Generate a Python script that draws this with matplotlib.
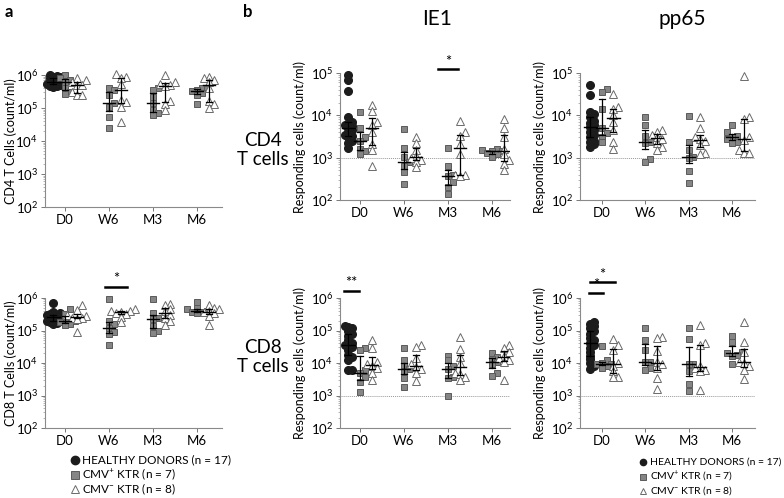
import numpy as np
import matplotlib.pyplot as plt
from matplotlib.lines import Line2D
from matplotlib.ticker import LogLocator, NullFormatter
import matplotlib.transforms as mtransforms

plt.rcParams['font.family'] = ['Lato', 'DejaVu Sans']
plt.rcParams['mathtext.fontset'] = 'custom'
plt.rcParams['mathtext.rm'] = 'Lato'
plt.rcParams['mathtext.it'] = 'Lato:italic'

timepoints = ['D0', 'W6', 'M3', 'M6']

# panel a, CD4 T cells (count/ml)
cd4_healthy = [1e6, 9.5e5, 9e5, 8.5e5, 8e5, 7.5e5, 7e5, 6.5e5, 6.2e5, 6e5, 5.8e5, 5.5e5, 5.2e5, 5e5, 4.8e5, 4.5e5, 4.2e5]
cd4_pos = [[1e6, 8e5, 7e5, 6e5, 4e5, 3e5, 2.7e5],
           [4e5, 3.5e5, 2.5e5, 1.4e5, 1.1e5, 5.5e4, 2.4e4],
           [4e5, 3.6e5, 2.1e5, 1.4e5, 8.5e4, 7e4, 6e4],
           [4e5, 3.7e5, 3.6e5, 3.2e5, 2.8e5, 2.5e5, 1.3e5]]
cd4_neg = [[8e5, 7e5, 6e5, 5e5, 5e5, 3e5, 2.5e5, 2.5e5],
           [1.05e6, 9e5, 8e5, 5.5e5, 1.7e5, 1.5e5, 1.1e5, 3.7e4],
           [1e6, 6e5, 5.5e5, 5e5, 4.5e5, 1.6e5, 1.3e5, 9e4],
           [9e5, 8e5, 7e5, 6e5, 4e5, 1.6e5, 1.3e5, 1e5]]

# panel a, CD8 T cells (count/ml)
cd8_healthy = [7e5, 3.6e5, 3.4e5, 3.3e5, 3.1e5, 3e5, 2.9e5, 2.8e5, 2.6e5, 2.5e5, 2.4e5, 2.2e5, 2e5, 1.9e5, 1.8e5, 1.7e5, 1.6e5]
cd8_pos = [[4.5e5, 3.2e5, 2.2e5, 2e5, 1.8e5, 1.6e5, 1.5e5],
           [9e5, 2e5, 1.6e5, 1.2e5, 9e4, 8e4, 3.6e4],
           [9e5, 3.5e5, 2.5e5, 2.2e5, 1.4e5, 1e5, 8.5e4],
           [7.5e5, 5e5, 4.5e5, 4e5, 3.8e5, 3.6e5, 3.5e5]]
cd8_neg = [[6e5, 4.3e5, 3e5, 2.7e5, 2.5e5, 2.4e5, 2.2e5, 9e4],
           [4.5e5, 4e5, 4e5, 3.7e5, 3.5e5, 3.3e5, 2.6e5, 1.8e5],
           [6.5e5, 6e5, 4.5e5, 4e5, 3e5, 2.5e5, 2e5, 1.5e5],
           [6e5, 5e5, 4.5e5, 4e5, 3.6e5, 3.5e5, 2.8e5, 1.5e5]]

# panel b, IE1 responding CD4
ie1_cd4_healthy = [9e4, 7e4, 3.8e4, 9e3, 7e3, 6e3, 6e3, 5.5e3, 5e3, 4.5e3, 4e3, 3.5e3, 3.3e3, 3e3, 2.5e3, 2.2e3, 1.7e3]
ie1_cd4_pos = [[1.2e4, 5e3, 3e3, 2.5e3, 1.6e3, 1.4e3, 1.2e3],
               [4.8e3, 1.7e3, 1.05e3, 8e2, 6.3e2, 4.5e2, 2.4e2],
               [1.65e3, 6.2e2, 4e2, 3.7e2, 2.6e2, 2e2, 1.35e2],
               [1.6e3, 1.5e3, 1.45e3, 1.4e3, 1.3e3, 1.2e3, 1.05e3]]
ie1_cd4_neg = [[1.8e4, 1.3e4, 7e3, 6e3, 4e3, 2.1e3, 1.5e3, 6.5e2],
               [3e3, 2.2e3, 1.5e3, 1.1e3, 1e3, 9e2, 8e2, 6e2],
               [7.5e3, 4e3, 3.2e3, 2.1e3, 1.2e3, 4e2, 3.8e2, 3.6e2],
               [8e3, 5e3, 3e3, 1.6e3, 1.2e3, 9e2, 7e2, 5e2]]

# panel b, pp65 responding CD4
pp65_cd4_healthy = [5.2e4, 3e4, 1.2e4, 1.05e4, 9e3, 7.5e3, 6.5e3, 5.8e3, 5.2e3, 4.6e3, 4e3, 3.4e3, 3e3, 2.5e3, 2.3e3, 2.1e3, 1.8e3]
pp65_cd4_pos = [[4.3e4, 3.5e4, 1.4e4, 5e3, 3.8e3, 3e3, 2.3e3],
                [9e3, 6e3, 3.2e3, 2.4e3, 2.2e3, 9.5e2, 8e2],
                [9.5e3, 2.4e3, 1.5e3, 1.05e3, 9.8e2, 4.8e2, 2.5e2],
                [6e3, 4e3, 3.3e3, 3.1e3, 2.8e3, 2.4e3, 2.2e3]]
pp65_cd4_neg = [[3.2e4, 1.6e4, 1.4e4, 1e4, 7e3, 4.5e3, 2.3e3, 1.6e3],
                [4.5e3, 4e3, 3.5e3, 3e3, 2.7e3, 2.2e3, 1.8e3, 1.5e3],
                [9e3, 5e3, 3e3, 2.7e3, 2.5e3, 2e3, 1.3e3, 1.2e3],
                [8.5e4, 9e3, 8e3, 3e3, 2.6e3, 1.5e3, 1.3e3, 1.3e3]]

# panel b, IE1 responding CD8
ie1_cd8_healthy = [1.4e5, 1.3e5, 1.2e5, 1e5, 8e4, 7e4, 5e4, 4e4, 3.5e4, 3.5e4, 3e4, 2.5e4, 1.8e4, 1.5e4, 1.2e4, 6e3, 6e3]
ie1_cd8_pos = [[2.8e4, 2.6e4, 6e3, 5e3, 3.6e3, 2.6e3, 1.3e3],
               [2.8e4, 1.2e4, 8e3, 6.5e3, 5.5e3, 3.5e3, 1.8e3],
               [1.7e4, 1.2e4, 8e3, 6.5e3, 3.6e3, 3.5e3, 9.5e2],
               [2e4, 1.5e4, 1.3e4, 1.05e4, 9e3, 5e3, 4e3]]
ie1_cd8_neg = [[5e4, 2.8e4, 1.1e4, 9e3, 8e3, 7e3, 5e3, 3e3],
               [3.6e4, 3e4, 1.4e4, 9e3, 7.5e3, 6.5e3, 5e3, 2.8e3],
               [6.5e4, 2.7e4, 1.5e4, 1e4, 5e3, 4.5e3, 3.7e3, 3e3],
               [3.5e4, 2.8e4, 2.2e4, 1.7e4, 1.4e4, 1.2e4, 1.1e4, 3e3]]

# panel b, pp65 responding CD8
pp65_cd8_healthy = [1.8e5, 1.6e5, 1.4e5, 1.2e5, 1e5, 8e4, 6e4, 5e4, 4.2e4, 3.5e4, 2.8e4, 2.2e4, 1.7e4, 1.3e4, 1e4, 8e3, 6.5e3]
pp65_cd8_pos = [[3.3e4, 1.2e4, 1e4, 9.5e3, 9e3, 8e3, 7e3],
                [1.2e5, 5e4, 2.6e4, 1.1e4, 1.05e4, 7e3, 6e3],
                [1.2e5, 5.4e4, 9.5e3, 9e3, 5.8e3, 2.3e3, 1.4e3],
                [7e4, 4.3e4, 2.2e4, 2e4, 1.8e4, 1.6e4, 9e3]]
pp65_cd8_neg = [[5.5e4, 3.5e4, 2.5e4, 1e4, 8e3, 5.5e3, 3.8e3, 3.7e3],
                [6.5e4, 6e4, 2.3e4, 1.1e4, 9e3, 7e3, 3.5e3, 1.6e3],
                [1.5e5, 4e4, 3.5e4, 8e3, 7e3, 6e3, 5.5e3, 1.5e3],
                [1.8e5, 4.5e4, 2.2e4, 1.1e4, 1e4, 8e3, 6e3, 3.2e3]]

legend_labels = ['HEALTHY DONORS (n = 17)', r'CMV$^{+}$ KTR (n = 7)', r'CMV$^{-}$ KTR (n = 8)']

W, H = 784, 498
fig = plt.figure(figsize=(W / 100, H / 100), dpi=100)

healthy_style = dict(marker='o', mfc='#1c1c1c', mec='#1c1c1c', ls='none')
pos_style = dict(marker='s', mfc='#858585', mec='#5a5a5a', mew=0.7, ls='none')
neg_style = dict(marker='^', mfc='white', mec='#6a6a6a', mew=0.7, ls='none')


def px_axes(x0, y0, x1, y1):
    return fig.add_axes([x0 / W, 1 - y1 / H, (x1 - x0) / W, (y1 - y0) / H])


def swarm(vals, ppd, ppu, size, tol):
    # simple deterministic beeswarm, offsets in category units
    ys = np.log10(vals) * ppd
    placed = []
    offs = np.zeros(len(vals))
    for i in np.argsort(ys):
        for k in [0, 1, -1, 2, -2, 3, -3, 4, -4]:
            x = k * size * tol
            if all((x - a) ** 2 + (ys[i] - b) ** 2 >= (size * tol) ** 2 for a, b in placed):
                break
        placed.append((x, ys[i]))
        offs[i] = x
    return offs / ppu


def summary(ax, xc, vals):
    q1, med, q3 = np.percentile(vals, [25, 50, 75])
    ax.plot([xc, xc], [q1, q3], color='black', lw=0.9, zorder=5)
    ax.plot([xc - 0.07, xc + 0.07], [q1, q1], color='black', lw=0.9, zorder=5)
    ax.plot([xc - 0.07, xc + 0.07], [q3, q3], color='black', lw=0.9, zorder=5)
    ax.plot([xc - 0.14, xc + 0.14], [med, med], color='black', lw=1.0, zorder=5)


def panel(ax, healthy, pos, neg, ylim, xlim, ylabel, label_x, cutoff=False):
    ax.set_yscale('log')
    ax.set_ylim(*ylim)
    ax.set_xlim(*xlim)
    bbox = ax.get_position()
    ppd = bbox.height * H / np.log10(ylim[1] / ylim[0])
    ppu = bbox.width * W / (xlim[1] - xlim[0])

    xh = -0.26 + swarm(healthy, ppd, ppu, 7.0, 0.45)
    ax.plot(xh, healthy, ms=5.5, zorder=3, clip_on=False, **healthy_style)
    summary(ax, -0.26, healthy)
    for i in range(len(timepoints)):
        xp = i + swarm(pos[i], ppd, ppu, 6.5, 0.75)
        ax.plot(xp, pos[i], ms=5, zorder=3, clip_on=False, **pos_style)
        xn = i + 0.27 + swarm(neg[i], ppd, ppu, 6.5, 0.75)
        ax.plot(xn, neg[i], ms=5.5, zorder=4, clip_on=False, **neg_style)
        summary(ax, i, pos[i])
        summary(ax, i + 0.27, neg[i])

    if cutoff:
        ax.axhline(1e3, color='#999999', lw=0.7, ls=(0, (1, 1)), zorder=1)

    ax.set_xticks(range(len(timepoints)))
    ax.set_xticklabels(timepoints)
    ax.yaxis.set_major_locator(LogLocator(base=10, numticks=10))
    ax.yaxis.set_minor_locator(LogLocator(base=10, subs=np.arange(2, 10), numticks=10))
    ax.yaxis.set_minor_formatter(NullFormatter())
    ax.tick_params(axis='both', which='major', labelsize=9.5, length=3, width=0.7, color='#777777', pad=2)
    ax.tick_params(axis='y', which='minor', length=1.5, width=0.5, color='#999999')
    for s in ['top', 'right']:
        ax.spines[s].set_visible(False)
    for s in ['left', 'bottom']:
        ax.spines[s].set_color('#8a8a8a')
        ax.spines[s].set_linewidth(0.8)
    ax.set_ylabel(ylabel, fontsize=9)
    # label_x is the centre of the rotated label in pixels; its anchor is the right edge
    ax.yaxis.set_label_coords((label_x + 6 - bbox.x0 * W) / (bbox.width * W), 0.5)


def sig(ax, x0, x1, y, stars):
    tr = mtransforms.blended_transform_factory(ax.transData, ax.transAxes)
    ax.plot([x0, x1], [y, y], color='black', lw=1.8, transform=tr, clip_on=False)
    ax.text((x0 + x1) / 2, y + 0.005, stars, transform=tr, ha='center', va='bottom', fontsize=10.5)


def legend(x, y, dy, fs, ms):
    styles = [healthy_style, pos_style, neg_style]
    for k, (label, st) in enumerate(zip(legend_labels, styles)):
        yy = 1 - (y + k * dy) / H
        fig.add_artist(Line2D([x / W], [yy], transform=fig.transFigure, ms=ms, **st))
        fig.text((x + 7) / W, yy, label, fontsize=fs, va='center', ha='left')


ax1 = px_axes(45, 75, 222, 207)
panel(ax1, cd4_healthy, cd4_pos, cd4_neg, (1e2, 1e6), (-0.45, 3.57), 'CD4 T Cells (count/ml)', 11)
ax2 = px_axes(45, 298, 222, 428)
panel(ax2, cd8_healthy, cd8_pos, cd8_neg, (1e2, 1e6), (-0.45, 3.57), 'CD8 T Cells (count/ml)', 11)
sig(ax2, 0.91, 1.41, 1.085, '*')

ax3 = px_axes(340, 73, 510, 200)
panel(ax3, ie1_cd4_healthy, ie1_cd4_pos, ie1_cd4_neg, (1e2, 1e5), (-0.45, 3.41), 'Responding cells (count/ml)', 300, True)
sig(ax3, 1.78, 2.23, 1.03, '*')
ax4 = px_axes(580, 73, 755, 200)
panel(ax4, pp65_cd4_healthy, pp65_cd4_pos, pp65_cd4_neg, (1e2, 1e5), (-0.5, 3.53), 'Responding cells (count/ml)', 540, True)

ax5 = px_axes(340, 298, 510, 428)
panel(ax5, ie1_cd8_healthy, ie1_cd8_pos, ie1_cd8_neg, (1e2, 1e6), (-0.45, 3.41), 'Responding cells (count/ml)', 300, True)
sig(ax5, -0.36, -0.02, 1.054, '**')
ax6 = px_axes(580, 298, 755, 428)
panel(ax6, pp65_cd8_healthy, pp65_cd8_pos, pp65_cd8_neg, (1e2, 1e6), (-0.5, 3.53), 'Responding cells (count/ml)', 540, True)
sig(ax6, -0.29, 0.03, 1.04, '*')
sig(ax6, -0.27, 0.30, 1.12, '*')

fig.text(5 / W, 1 - 12 / H, 'a', fontsize=12, fontweight='bold', va='center')
fig.text(243 / W, 1 - 12 / H, 'b', fontsize=12, fontweight='bold', va='center')
fig.text(437 / W, 1 - 19 / H, 'IE1', fontsize=15, ha='center', va='center')
fig.text(682 / W, 1 - 19 / H, 'pp65', fontsize=15, ha='center', va='center')
fig.text(263 / W, 1 - 150 / H, 'CD4\nT cells', fontsize=13.5, ha='center', va='center', linespacing=1.2)
fig.text(263 / W, 1 - 357 / H, 'CD8\nT cells', fontsize=13.5, ha='center', va='center', linespacing=1.2)

legend(75, 460, 14.5, 8.5, 6)
legend(643, 462, 14.5, 7.5, 4.5)

fig.savefig('out.png', dpi=100)
